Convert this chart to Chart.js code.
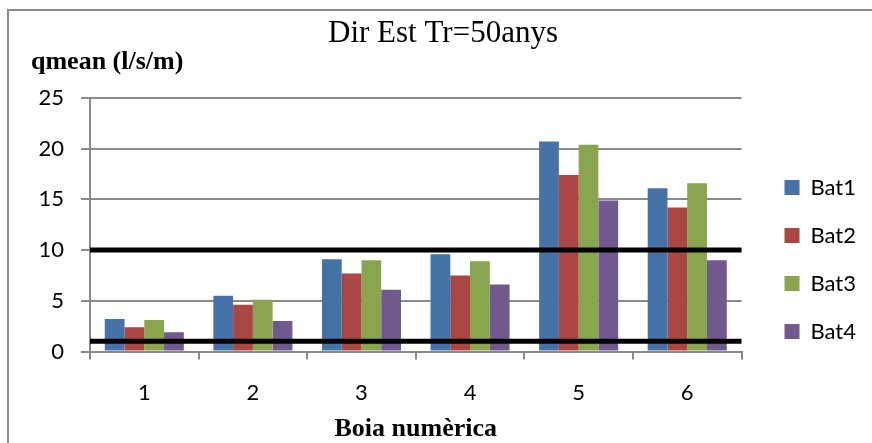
<!DOCTYPE html>
<html>
<head>
<meta charset="utf-8">
<script src="https://cdn.jsdelivr.net/npm/chart.js@4/dist/chart.umd.min.js"></script>
<style>
  html, body { margin: 0; padding: 0; background: #fff; overflow: hidden; }
  canvas { display: block; }
</style>
</head>
<body>
<canvas id="c" width="872" height="443"></canvas>
<script>
// Buoy numbers along the x axis
const categories = ['1', '2', '3', '4', '5', '6'];
// Mean overtopping discharge qmean (l/s/m) for each bathymetry
const seriesNames = ['Bat1', 'Bat2', 'Bat3', 'Bat4'];
const bat1 = [3.2, 5.5, 9.1, 9.6, 20.7, 16.1];
const bat2 = [2.4, 4.6, 7.7, 7.5, 17.4, 14.2];
const bat3 = [3.1, 5.1, 9.0, 8.9, 20.4, 16.6];
const bat4 = [1.9, 3.0, 6.1, 6.6, 14.9, 9.0];
const seriesColors = ['#4572A7', '#AA4643', '#89A54E', '#71588F'];
// Reference discharge limits drawn as heavy horizontal lines
const thresholds = [10, 1];
const yTicks = [0, 5, 10, 15, 20, 25];

const seriesValues = [bat1, bat2, bat3, bat4];
const GRID = '#8a8a8a';

Chart.defaults.font.family = 'Lato';
Chart.defaults.color = '#000';

// Outer chart frame (top and left edges visible in the window)
const chartFrame = {
  id: 'chartFrame',
  beforeDraw(chart) {
    const ctx = chart.ctx;
    ctx.save();
    ctx.strokeStyle = GRID;
    ctx.lineWidth = 2;
    ctx.beginPath();
    ctx.moveTo(8, chart.height + 5);
    ctx.lineTo(8, 10);
    ctx.lineTo(chart.width + 5, 10);
    ctx.stroke();
    ctx.restore();
  }
};

const thresholdLines = {
  id: 'thresholdLines',
  afterDatasetsDraw(chart) {
    const { ctx, chartArea, scales } = chart;
    ctx.save();
    ctx.strokeStyle = '#000';
    ctx.lineWidth = 5;
    thresholds.forEach(v => {
      const py = scales.y.getPixelForValue(v);
      ctx.beginPath();
      ctx.moveTo(chartArea.left, py);
      ctx.lineTo(chartArea.right, py);
      ctx.stroke();
    });
    ctx.restore();
  }
};

// Fine placement of the legend column and the main title
const placeBlocks = {
  id: 'placeBlocks',
  afterLayout(chart) {
    const lg = chart.legend;
    lg.left += 17; lg.right = chart.width;
    lg.top += 33; lg.bottom += 33;
    const t = chart.titleBlock;
    t.left += 3; t.right += 3;
  }
};

new Chart(document.getElementById('c'), {
  type: 'bar',
  data: {
    labels: categories,
    datasets: seriesNames.map((name, i) => ({
      label: name,
      data: seriesValues[i],
      backgroundColor: seriesColors[i],
      borderWidth: 0,
      categoryPercentage: 0.728,
      barPercentage: 1.0
    }))
  },
  options: {
    responsive: false,
    devicePixelRatio: 1,
    animation: false,
    layout: { padding: { left: 31, right: 23, top: 10, bottom: 0 } },
    plugins: {
      title: {
        display: true,
        text: 'Dir Est Tr=50anys',
        color: '#000',
        font: { family: 'Liberation Serif', size: 31, weight: 'normal', lineHeight: 1 },
        padding: { top: 8, bottom: 0 }
      },
      subtitle: {
        display: true,
        text: 'qmean (l/s/m)',
        align: 'start',
        color: '#000',
        font: { family: 'Liberation Serif', size: 26, weight: 'bold', lineHeight: 1 },
        padding: { top: 0, bottom: 23 }
      },
      legend: {
        position: 'right',
        align: 'center',
        labels: {
          boxWidth: 15,
          boxHeight: 15,
          padding: 26,
          color: '#000',
          font: { family: 'Lato', size: 22 }
        }
      },
      tooltip: { enabled: false }
    },
    scales: {
      x: {
        grid: { display: true, drawOnChartArea: false, drawTicks: true, tickLength: 8, color: GRID, lineWidth: 2, offset: true },
        border: { display: true, color: GRID, width: 2 },
        ticks: { color: '#000', font: { family: 'Lato', size: 22 }, padding: 20.5 },
        title: {
          display: true,
          text: 'Boia numèrica',
          color: '#000',
          font: { family: 'Liberation Serif', size: 26, weight: 'bold', lineHeight: 1 },
          padding: { top: 0, bottom: 0.5 }
        },
        afterFit(s) { s.height = 91.5; }
      },
      y: {
        min: yTicks[0],
        max: yTicks[yTicks.length - 1],
        ticks: { stepSize: yTicks[1] - yTicks[0], color: '#000', font: { family: 'Lato', size: 22 }, padding: 17 },
        grid: { color: GRID, lineWidth: 2, tickLength: 9 },
        border: { color: GRID, width: 2 },
        afterFit(s) { s.width = 59; }
      }
    }
  },
  plugins: [chartFrame, thresholdLines, placeBlocks]
});
</script>
</body>
</html>
